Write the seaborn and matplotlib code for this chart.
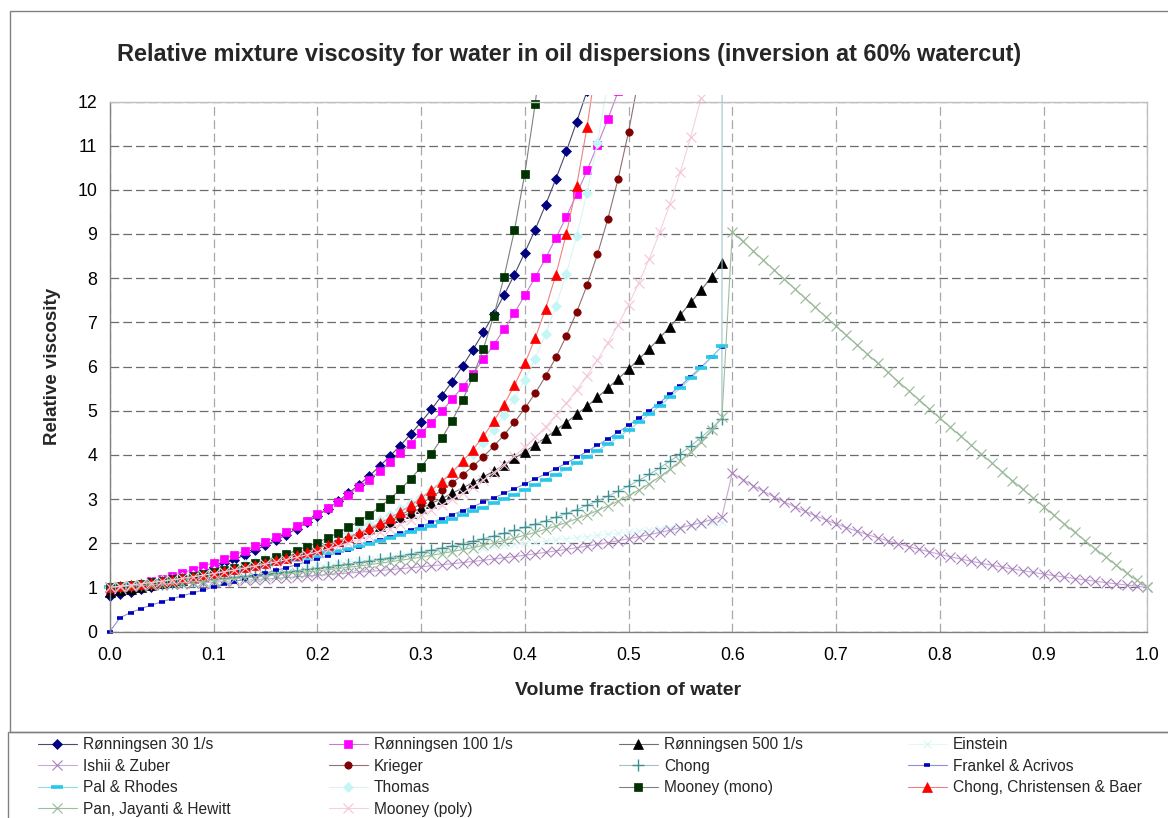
import matplotlib
matplotlib.use("Agg")
import matplotlib.pyplot as plt
from matplotlib.patches import Rectangle
from matplotlib.transforms import Bbox, TransformedBbox
import seaborn as sns

# Water volume fraction grid (0.00 .. 1.00 in steps of 0.01)
WATERCUT = [0.00, 0.01, 0.02, 0.03, 0.04, 0.05, 0.06, 0.07, 0.08, 0.09,
            0.10, 0.11, 0.12, 0.13, 0.14, 0.15, 0.16, 0.17, 0.18, 0.19,
            0.20, 0.21, 0.22, 0.23, 0.24, 0.25, 0.26, 0.27, 0.28, 0.29,
            0.30, 0.31, 0.32, 0.33, 0.34, 0.35, 0.36, 0.37, 0.38, 0.39,
            0.40, 0.41, 0.42, 0.43, 0.44, 0.45, 0.46, 0.47, 0.48, 0.49,
            0.50, 0.51, 0.52, 0.53, 0.54, 0.55, 0.56, 0.57, 0.58, 0.59,
            0.60, 0.61, 0.62, 0.63, 0.64, 0.65, 0.66, 0.67, 0.68, 0.69,
            0.70, 0.71, 0.72, 0.73, 0.74, 0.75, 0.76, 0.77, 0.78, 0.79,
            0.80, 0.81, 0.82, 0.83, 0.84, 0.85, 0.86, 0.87, 0.88, 0.89,
            0.90, 0.91, 0.92, 0.93, 0.94, 0.95, 0.96, 0.97, 0.98, 0.99,
            1.00]

# Relative viscosity per model, starting at watercut 0.00
RONNINGSEN_30 = [0.80, 0.85, 0.90, 0.96, 1.01, 1.08, 1.14, 1.21, 1.29, 1.36,
                 1.45, 1.54, 1.63, 1.73, 1.84, 1.95, 2.07, 2.19, 2.33, 2.47,
                 2.62, 2.78, 2.95, 3.13, 3.32, 3.52, 3.74, 3.97, 4.21, 4.47,
                 4.74, 5.03, 5.34, 5.66, 6.01, 6.38, 6.77, 7.18, 7.62, 8.08,
                 8.58, 9.10, 9.66, 10.25, 10.87, 11.54, 12.24]

RONNINGSEN_100 = [0.92, 0.97, 1.02, 1.08, 1.14, 1.20, 1.26, 1.33, 1.40, 1.48,
                  1.56, 1.65, 1.73, 1.83, 1.93, 2.03, 2.14, 2.26, 2.38, 2.51,
                  2.65, 2.79, 2.94, 3.10, 3.27, 3.44, 3.63, 3.83, 4.04, 4.25,
                  4.49, 4.73, 4.99, 5.26, 5.54, 5.84, 6.16, 6.49, 6.84, 7.21,
                  7.61, 8.02, 8.45, 8.91, 9.39, 9.90, 10.44, 11.01, 11.60, 12.23]

RONNINGSEN_500 = [0.90, 0.94, 0.97, 1.01, 1.05, 1.09, 1.13, 1.17, 1.22, 1.26,
                  1.31, 1.36, 1.42, 1.47, 1.53, 1.58, 1.65, 1.71, 1.77, 1.84,
                  1.91, 1.99, 2.06, 2.14, 2.23, 2.31, 2.40, 2.49, 2.59, 2.69,
                  2.79, 2.90, 3.01, 3.13, 3.25, 3.37, 3.50, 3.63, 3.77, 3.92,
                  4.07, 4.23, 4.39, 4.56, 4.73, 4.92, 5.10, 5.30, 5.51, 5.72,
                  5.94, 6.17, 6.40, 6.65, 6.90, 7.17, 7.45, 7.73, 8.03, 8.34]

EINSTEIN = [1.000, 1.025, 1.050, 1.075, 1.100, 1.125, 1.150, 1.175, 1.200, 1.225,
            1.250, 1.275, 1.300, 1.325, 1.350, 1.375, 1.400, 1.425, 1.450, 1.475,
            1.500, 1.525, 1.550, 1.575, 1.600, 1.625, 1.650, 1.675, 1.700, 1.725,
            1.750, 1.775, 1.800, 1.825, 1.850, 1.875, 1.900, 1.925, 1.950, 1.975,
            2.000, 2.025, 2.050, 2.075, 2.100, 2.125, 2.150, 2.175, 2.200, 2.225,
            2.250, 2.275, 2.300, 2.325, 2.350, 2.375, 2.400, 2.425, 2.450, 2.475]

ISHII_ZUBER = [1.000, 1.011, 1.022, 1.033, 1.045, 1.056, 1.068, 1.081, 1.093, 1.106,
               1.119, 1.133, 1.147, 1.161, 1.175, 1.190, 1.205, 1.221, 1.237, 1.253,
               1.270, 1.287, 1.305, 1.323, 1.341, 1.360, 1.380, 1.400, 1.421, 1.443,
               1.465, 1.487, 1.511, 1.535, 1.560, 1.586, 1.612, 1.640, 1.668, 1.697,
               1.727, 1.759, 1.791, 1.825, 1.860, 1.896, 1.934, 1.973, 2.013, 2.055,
               2.099, 2.145, 2.193, 2.243, 2.295, 2.350, 2.407, 2.467, 2.530, 2.596,
               3.586, 3.441, 3.304, 3.174, 3.052, 2.936, 2.826, 2.721, 2.623, 2.529,
               2.439, 2.354, 2.273, 2.196, 2.123, 2.053, 1.986, 1.922, 1.861, 1.803,
               1.747, 1.694, 1.642, 1.593, 1.546, 1.501, 1.458, 1.416, 1.377, 1.338,
               1.301, 1.266, 1.232, 1.199, 1.167, 1.137, 1.107, 1.079, 1.052, 1.025,
               1.000]

KRIEGER = [1.000, 1.027, 1.056, 1.086, 1.117, 1.150, 1.184, 1.219, 1.257, 1.296,
           1.337, 1.380, 1.425, 1.473, 1.523, 1.576, 1.632, 1.691, 1.753, 1.819,
           1.888, 1.962, 2.041, 2.124, 2.213, 2.308, 2.410, 2.518, 2.635, 2.760,
           2.894, 3.040, 3.196, 3.366, 3.543, 3.741, 3.957, 4.194, 4.453, 4.738,
           5.050, 5.395, 5.779, 6.207, 6.690, 7.232, 7.842, 8.539, 9.338, 10.252,
           11.311, 12.553]

CHONG = [1.000, 1.016, 1.032, 1.049, 1.066, 1.084, 1.103, 1.121, 1.141, 1.161,
         1.182, 1.204, 1.226, 1.249, 1.272, 1.297, 1.323, 1.349, 1.376, 1.404,
         1.434, 1.464, 1.496, 1.528, 1.563, 1.598, 1.635, 1.673, 1.713, 1.755,
         1.798, 1.843, 1.891, 1.940, 1.992, 2.046, 2.103, 2.162, 2.224, 2.290,
         2.358, 2.431, 2.507, 2.587, 2.672, 2.761, 2.856, 2.956, 3.063, 3.175,
         3.295, 3.423, 3.558, 3.703, 3.858, 4.024, 4.203, 4.394, 4.600, 4.822,
         500.0]

FRANKEL_ACRIVOS = [0.000, 0.315, 0.428, 0.519, 0.598, 0.672, 0.742, 0.809, 0.875, 0.939,
                   1.003, 1.066, 1.129, 1.191, 1.254, 1.318, 1.382, 1.446, 1.511, 1.577,
                   1.644, 1.712, 1.782, 1.852, 1.923, 1.996, 2.071, 2.147, 2.225, 2.305,
                   2.387, 2.471, 2.555, 2.643, 2.736, 2.829, 2.925, 3.024, 3.126, 3.232,
                   3.340, 3.453, 3.569, 3.688, 3.815, 3.943, 4.077, 4.216, 4.361, 4.512,
                   4.669, 4.832, 5.003, 5.182, 5.369, 5.565, 5.770, 5.986, 6.213, 6.452]

PAL_RHODES = [1.000, 1.026, 1.052, 1.080, 1.108, 1.137, 1.167, 1.198, 1.231, 1.264,
              1.298, 1.334, 1.371, 1.409, 1.448, 1.489, 1.531, 1.575, 1.621, 1.668,
              1.717, 1.767, 1.820, 1.874, 1.930, 1.989, 2.050, 2.113, 2.179, 2.247,
              2.318, 2.391, 2.468, 2.548, 2.631, 2.717, 2.807, 2.901, 2.998, 3.100,
              3.206, 3.317, 3.433, 3.553, 3.679, 3.811, 3.948, 4.092, 4.243, 4.400,
              4.565, 4.737, 4.918, 5.108, 5.306, 5.515, 5.733, 5.963, 6.205, 6.458]

THOMAS = [1.003, 1.029, 1.058, 1.089, 1.121, 1.156, 1.194, 1.233, 1.275, 1.319,
          1.365, 1.414, 1.465, 1.518, 1.575, 1.634, 1.696, 1.761, 1.830, 1.902,
          1.978, 2.057, 2.142, 2.231, 2.326, 2.426, 2.534, 2.649, 2.773, 2.907,
          3.052, 3.210, 3.383, 3.573, 3.783, 4.017, 4.278, 4.570, 4.900, 5.273,
          5.697, 6.180, 6.734, 7.370, 8.103, 8.950, 9.932, 11.071, 12.397]

MOONEY_MONO = [1.000, 1.026, 1.053, 1.082, 1.112, 1.144, 1.178, 1.215, 1.253, 1.295,
               1.339, 1.386, 1.437, 1.491, 1.549, 1.612, 1.680, 1.754, 1.833, 1.920,
               2.015, 2.118, 2.232, 2.356, 2.494, 2.646, 2.816, 3.004, 3.216, 3.453,
               3.722, 4.027, 4.375, 4.774, 5.236, 5.771, 6.400, 7.141, 8.023, 9.082,
               10.367, 11.942, 13.897]

CHONG_CHRISTENSEN_BAER = [1.000, 1.025, 1.052, 1.080, 1.109, 1.140, 1.172, 1.206, 1.242, 1.279,
                          1.319, 1.361, 1.406, 1.453, 1.503, 1.556, 1.612, 1.672, 1.736, 1.805,
                          1.878, 1.956, 2.041, 2.132, 2.230, 2.335, 2.450, 2.574, 2.710, 2.858,
                          3.020, 3.197, 3.393, 3.610, 3.850, 4.119, 4.419, 4.756, 5.138, 5.572,
                          6.068, 6.641, 7.305, 8.082, 9.000, 10.096, 11.420, 13.040]

PAN_JAYANTI_HEWITT = [1.000, 1.014, 1.028, 1.043, 1.058, 1.073, 1.089, 1.105, 1.122, 1.140,
                      1.158, 1.176, 1.195, 1.215, 1.235, 1.256, 1.278, 1.300, 1.324, 1.348,
                      1.373, 1.399, 1.426, 1.454, 1.483, 1.514, 1.545, 1.578, 1.612, 1.648,
                      1.686, 1.725, 1.766, 1.809, 1.854, 1.901, 1.951, 2.003, 2.059, 2.117,
                      2.179, 2.245, 2.314, 2.388, 2.467, 2.551, 2.641, 2.737, 2.841, 2.953,
                      3.073, 3.204, 3.347, 3.502, 3.673, 3.861, 4.068, 4.300, 4.558, 4.850,
                      9.050, 8.835, 8.620, 8.406, 8.192, 7.978, 7.765, 7.552, 7.340, 7.128,
                      6.917, 6.706, 6.496, 6.286, 6.077, 5.868, 5.660, 5.453, 5.246, 5.040,
                      4.834, 4.630, 4.426, 4.222, 4.020, 3.819, 3.618, 3.418, 3.220, 3.023,
                      2.827, 2.632, 2.438, 2.247, 2.057, 1.870, 1.685, 1.504, 1.326, 1.155,
                      1.000]

MOONEY_POLY = [1.000, 1.026, 1.052, 1.080, 1.109, 1.139, 1.170, 1.203, 1.237, 1.273,
               1.310, 1.350, 1.391, 1.434, 1.479, 1.526, 1.576, 1.628, 1.683, 1.740,
               1.801, 1.865, 1.933, 2.004, 2.079, 2.159, 2.243, 2.332, 2.426, 2.527,
               2.633, 2.746, 2.867, 2.995, 3.131, 3.277, 3.433, 3.600, 3.779, 3.970,
               4.176, 4.397, 4.636, 4.893, 5.170, 5.470, 5.795, 6.147, 6.530, 6.947,
               7.401, 7.897, 8.440, 9.035, 9.689, 10.409, 11.203, 12.080]

LABELS = ["Rønningsen 30 1/s", "Rønningsen 100 1/s", "Rønningsen 500 1/s", "Einstein",
          "Ishii & Zuber", "Krieger", "Chong", "Frankel & Acrivos",
          "Pal & Rhodes", "Thomas", "Mooney (mono)", "Chong, Christensen & Baer",
          "Pan, Jayanti & Hewitt", "Mooney (poly)"]

VALUES = [RONNINGSEN_30, RONNINGSEN_100, RONNINGSEN_500, EINSTEIN,
          ISHII_ZUBER, KRIEGER, CHONG, FRANKEL_ACRIVOS,
          PAL_RHODES, THOMAS, MOONEY_MONO, CHONG_CHRISTENSEN_BAER,
          PAN_JAYANTI_HEWITT, MOONEY_POLY]

# marker, size, face colour, edge colour, edge width, line colour
STYLES = [
    ("D", 4.7, "#000080", "#000080", 0.5, "#4a4a6a"),
    ("s", 5.9, "#ff00ff", "#ff00ff", 0.5, "#c080c8"),
    ("^", 6.9, "#000000", "#000000", 0.5, "#707070"),
    ("x", 6.0, "#d4f4f4", "#d4f4f4", 0.7, "#e4f8f8"),
    ("x", 6.5, "#a880bc", "#a880bc", 0.8, "#c8a8d4"),
    ("o", 5.3, "#800000", "#800000", 0.5, "#907070"),
    ("+", 8.0, "#3c9090", "#3c9090", 1.0, "#9ec4c8"),
    ("_", 5.0, "#0000c0", "#0000c0", 2.6, "#9090d0"),
    ("_", 8.5, "#28c8e8", "#28c8e8", 2.6, "#90d8ea"),
    ("D", 4.7, "#c4f6f6", "#c4f6f6", 0.5, "#d8f4f4"),
    ("s", 5.7, "#003300", "#003300", 0.5, "#808080"),
    ("^", 6.9, "#ff0000", "#ff0000", 0.5, "#f08080"),
    ("x", 6.5, "#98b898", "#98b898", 0.8, "#a0bca0"),
    ("x", 6.5, "#f4c4da", "#f4c4da", 0.8, "#f4d0e0"),
]

sns.set_theme(style="white")
plt.rcParams["font.family"] = ["Liberation Sans", "DejaVu Sans"]

W, H = 1168, 818
fig = plt.figure(figsize=(W / 100, H / 100), dpi=100)
fig.patch.set_facecolor("white")

# chart frame and legend frame
fig.add_artist(Rectangle((10 / W, 86 / H), 1.2, (732 - 11) / H, transform=fig.transFigure,
                         fill=False, edgecolor="#808080", lw=1.0))
fig.add_artist(Rectangle((8 / W, -0.2), 1.2, 0.2 + 86 / H, transform=fig.transFigure,
                         fill=False, edgecolor="#808080", lw=1.0))

ax = fig.add_axes([109.8 / W, (H - 631.5) / H, 1037.5 / W, 530 / H])
ax.set_facecolor("white")

# let markers at the edges show fully, lines leave just above the top
clip = TransformedBbox(Bbox([[-0.03, -0.03], [1.03, 1.012]]), ax.transAxes)

handles = []
for label, vals, (mk, ms, mfc, mec, mew, lc) in zip(LABELS, VALUES, STYLES):
    sns.lineplot(x=WATERCUT[:len(vals)], y=vals, ax=ax, color=lc, lw=0.8,
                 marker=mk, markersize=ms, markerfacecolor=mfc,
                 markeredgecolor=mec, markeredgewidth=mew,
                 sort=False, estimator=None, legend=False, label=label)
    line = ax.lines[-1]
    line.set_clip_box(clip)
    handles.append(line)

ax.set_xlim(0, 1.0)
ax.set_ylim(0, 12)
ax.set_xticks([i / 10 for i in range(11)])
ax.set_xticklabels([f"{i / 10:.1f}" for i in range(11)])
ax.set_yticks(range(13))

ax.yaxis.grid(True, color="#6c6c6c", lw=0.9, linestyle=(0, (7, 3.2)))
ax.xaxis.grid(True, color="#a8a8a8", lw=0.9, linestyle=(0, (7, 3.6)))
ax.set_axisbelow(True)

for side in ("left", "bottom"):
    ax.spines[side].set_color("#808080")
    ax.spines[side].set_linewidth(1.0)
for side in ("top", "right"):
    ax.spines[side].set_color("#c0c0c0")
    ax.spines[side].set_linewidth(1.0)

ax.tick_params(axis="both", direction="out", length=5, width=1, color="#808080",
               labelsize=12.8, labelcolor="black")
ax.tick_params(axis="x", pad=6)
ax.tick_params(axis="y", pad=4)

ax.set_xlabel("Volume fraction of water", fontsize=14, fontweight="bold")
ax.set_ylabel("Relative viscosity", fontsize=13.5, fontweight="bold")
ax.xaxis.set_label_coords(0.5, -0.096)
ax.yaxis.set_label_coords(-0.047, 0.5)

fig.text(569.5 / W, 1 - 55 / H,
         "Relative mixture viscosity for water in oil dispersions (inversion at 60% watercut)",
         ha="center", va="center", fontsize=16.9, fontweight="bold")

# legend laid out row by row in four evenly spaced columns
col_x = [38, 329, 619, 908]
for c in range(4):
    idx = list(range(c, len(LABELS), 4))
    fig.legend([handles[i] for i in idx], [LABELS[i] for i in idx],
               loc="upper left", bbox_to_anchor=(col_x[c] / W, 1 - 737 / H),
               bbox_transform=fig.transFigure, frameon=False, fontsize=11.2,
               handlelength=2.5, handletextpad=0.4, labelspacing=0.42,
               borderpad=0, borderaxespad=0, numpoints=1)

fig.savefig("out.png", dpi=100, facecolor="white")
